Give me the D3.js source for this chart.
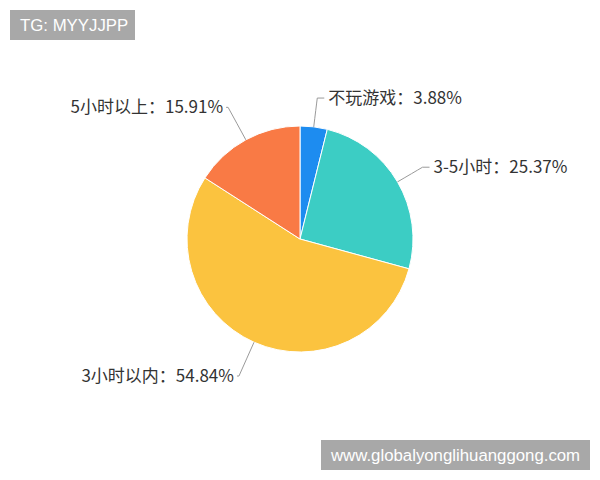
<!DOCTYPE html>
<html><head><meta charset="utf-8">
<script src="https://cdn.jsdelivr.net/npm/d3@7/dist/d3.min.js"></script>
<style>body{margin:0;background:#fff}svg{display:block}</style>
</head><body>
<svg id="c" width="600" height="480"></svg>
<script>
const categories = ["不玩游戏", "3-5小时", "3小时以内", "5小时以上"];
const values = [3.88, 25.37, 54.84, 15.91];
const colors = ["#1d8cf0", "#3ccdc4", "#fbc33f", "#f97a45"];
const watermarks = ["TG: MYYJJPP", "www.globalyonglihuanggong.com"];

const svg = d3.select("#c");
const cx = 300, cy = 239, R = 113;

const pie = d3.pie().sort(null).value(d => d.v);
const data = pie(categories.map((c, i) => ({c, v: values[i], col: colors[i]})));
const arc = d3.arc().innerRadius(0).outerRadius(R);
const g = svg.append("g").attr("transform", `translate(${cx},${cy})`);

g.selectAll("path.slice").data(data).join("path")
  .attr("class", "slice")
  .attr("d", arc)
  .attr("fill", d => d.data.col)
  .attr("stroke", "#fff").attr("stroke-width", 1);

const mid = d => (d.startAngle + d.endAngle) / 2;
const pt = (a, r) => [Math.sin(a) * r, -Math.cos(a) * r];

data.forEach(d => {
  const a = mid(d);
  const right = Math.sin(a) >= 0;
  const er = right ? 142 : 150;
  const p0 = pt(a, R);
  const p1 = pt(a, R + 18);
  const e = pt(a, er);
  const p2 = [e[0] + (right ? 7 : -2), e[1]];
  g.append("path")
    .attr("d", `M${p0[0]},${p0[1]} Q${p1[0]},${p1[1]} ${e[0]},${e[1]} L${p2[0]},${p2[1]}`)
    .attr("fill", "none").attr("stroke", "#9a9a9a").attr("stroke-width", 1);
  g.append("text")
    .attr("x", p2[0] + (right ? 4 : -3)).attr("y", p2[1])
    .attr("dy", "0.36em")
    .attr("text-anchor", right ? "start" : "end")
    .attr("font-family", "'Noto Sans CJK SC', sans-serif")
    .attr("font-size", 17).attr("fill", "#333")
    .text(`${d.data.c}：${d.data.v.toFixed(2)}%`);
});

// watermark boxes
const wm = [{t: watermarks[0], x: 10, y: 10, w: 125}, {t: watermarks[1], x: 321, y: 440, w: 269}];
wm.forEach(m => {
  svg.append("rect").attr("x", m.x).attr("y", m.y).attr("width", m.w).attr("height", 30).attr("fill", "#a8a8a8");
  svg.append("text").attr("x", m.x + 10).attr("y", m.y + 15).attr("dy", "0.36em")
    .attr("font-family", "'Liberation Sans', Arial, sans-serif").attr("font-size", 16.8)
    .attr("fill", "#fff").text(m.t);
});
</script>
</body></html>
